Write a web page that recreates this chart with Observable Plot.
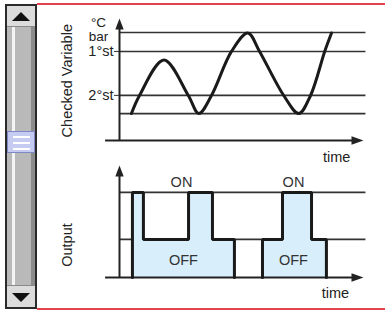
<!DOCTYPE html>
<html><head><meta charset="utf-8">
<script src="https://cdn.jsdelivr.net/npm/d3@7"></script>
<script src="https://cdn.jsdelivr.net/npm/@observablehq/plot@0.6"></script>
<style>
body{margin:0;background:#fff;}
#wrap{position:relative;width:385px;height:311px;overflow:hidden;font-family:"Liberation Sans",Arial,sans-serif;background:#fff;}
.abs{position:absolute;}
#sb{left:5px;top:4px;width:32px;height:305px;box-sizing:border-box;border-left:2px solid #2a2a2a;border-right:2px solid #2a2a2a;background:#b9b9b9;}
#hl{left:5px;top:0;width:3px;height:100%;background:#f4f4f4;}
#dk{left:24px;top:0;width:4px;height:100%;background:#8c8c8c;}
#bup{left:0;top:0;width:28px;height:23px;box-sizing:border-box;background:#dcdcdc;border-top:2px solid #2a2a2a;border-bottom:1px solid #8a8a8a;}
#bdn{left:0;top:281px;width:28px;height:24px;box-sizing:border-box;background:#dcdcdc;border-top:1px solid #8a8a8a;border-bottom:2px solid #2a2a2a;}
#tup{left:5px;top:6px;width:0;height:0;border-left:9px solid transparent;border-right:9px solid transparent;border-bottom:9px solid #111;}
#tdn{left:5px;top:7px;width:0;height:0;border-left:9px solid transparent;border-right:9px solid transparent;border-top:9px solid #111;}
#thumb{left:0;top:127px;width:28px;height:22px;box-sizing:border-box;background:#c6cbf2;border:1px solid #7f88c4;}
.gl{left:5px;width:17px;height:2px;background:#fff;}
.red{left:37px;width:348px;height:2px;background:#e2434d;}
#p1{left:0;top:0;}
#p2{left:0;top:162px;}
</style></head><body>
<div id="wrap">
  <div class="abs red" style="top:3px"></div>
  <div class="abs red" style="top:308px"></div>
  <div id="sb" class="abs">
    <div id="hl" class="abs"></div>
    <div id="dk" class="abs"></div>
    <div id="bup" class="abs"><div id="tup" class="abs"></div></div>
    <div id="thumb" class="abs">
      <div class="abs gl" style="top:4px"></div>
      <div class="abs gl" style="top:10px"></div>
      <div class="abs gl" style="top:16px"></div>
    </div>
    <div id="bdn" class="abs"><div id="tdn" class="abs"></div></div>
  </div>
  <div id="p1" class="abs"></div>
  <div id="p2" class="abs"></div>
</div>
<script>
// ---- data ----
const thresholdLevels = [22, 37, 73, 88.5];
const stageTicks = [73, 37];
const stageLabels = ["1°st", "2°st"];
const unitLabel = "°C\nbar";
const curveTime  = [4.9, 8.2, 18.2, 28.2, 32.5, 37.7, 45.9, 52.6, 57.4, 67.3, 73.5, 78.3, 84.1, 86.9];
const curveValue = [22.1, 36.9, 66.0, 36.9, 22.1, 36.9, 73.0, 88.1, 73.0, 36.9, 22.1, 36.9, 73.0, 88.1];
const outputLevels = [34, 76];
const block1Time  = [5.3, 5.3, 9.8, 28.3, 38.1, 47.1];
const block1Level = [0, 76, 34, 76, 34, 0];
const block2Time  = [58.6, 58.6, 66.8, 78.7, 84.8];
const block2Level = [0, 34, 76, 34, 0];
const onLabels  = [{t: 25.4, v: 85, s: "ON"}, {t: 71.3, v: 85, s: "ON"}];
const offLabels = [{t: 26.2, v: 15, s: "OFF"}, {t: 71.3, v: 15, s: "OFF"}];
const axisTitleTop = "Checked Variable";
const axisTitleBottom = "Output";
const timeLabel = "time";

const curve = curveTime.map((t, i) => ({t, v: curveValue[i]}));
const steps = [
  ...block1Time.map((t, i) => ({t, v: block1Level[i], b: 1})),
  ...block2Time.map((t, i) => ({t, v: block2Level[i], b: 2}))
];

const ink = "#222";
const font = "Liberation Sans, Arial, sans-serif";

const p1 = Plot.plot({
  width: 385, height: 162,
  marginLeft: 119, marginRight: 22, marginTop: 18, marginBottom: 22,
  x: {domain: [0, 100], axis: null},
  y: {domain: [0, 100]},
  style: {fontFamily: font, fontSize: "14.5px", color: ink, background: "transparent", overflow: "visible"},
  marks: [
    Plot.ruleY(thresholdLevels, {x1: 0, x2: 101, stroke: "#333", strokeWidth: 1.6}),
    Plot.axisY({ticks: stageTicks, tickFormat: d => stageLabels[stageTicks.indexOf(d)], tickSize: 5, tickPadding: 1, tickStrokeWidth: 1.6, stroke: "#333", fontSize: 14.5, label: null, fill: ink}),
    Plot.ruleX([0], {y1: 0, y2: 94, stroke: ink, strokeWidth: 2}),
    Plot.ruleY([0], {x1: -5.7, x2: 96, stroke: ink, strokeWidth: 2}),
    Plot.vector([0], {x: 0, y: 100, length: 11, r: 4.2, shape: "spike", anchor: "end", rotate: 0, fill: ink, stroke: "none"}),
    Plot.vector([0], {x: 100, y: 0, length: 12, r: 4.2, shape: "spike", anchor: "end", rotate: 90, fill: ink, stroke: "none"}),
    Plot.line(curve, {x: "t", y: "v", curve: "catmull-rom", stroke: "#1a1a1a", strokeWidth: 3}),
    Plot.text([unitLabel], {x: -8.6, y: 91, text: d => d, fontSize: 13.5, lineHeight: 1, fill: ink}),
    Plot.text([axisTitleTop], {x: -21.3, y: 49, text: d => d, rotate: -90, fontSize: 14.5, fill: ink}),
    Plot.text([timeLabel], {x: 89, y: -14, text: d => d, fontSize: 14.5, fill: ink})
  ]
});
document.getElementById("p1").appendChild(p1);

const p2 = Plot.plot({
  width: 385, height: 149,
  marginLeft: 119, marginRight: 22, marginTop: 3, marginBottom: 34,
  x: {domain: [0, 100], axis: null},
  y: {domain: [0, 100], axis: null},
  style: {fontFamily: font, fontSize: "14.5px", color: ink, background: "transparent", overflow: "visible"},
  marks: [
    Plot.ruleY(outputLevels, {x1: 0, x2: 101, stroke: "#333", strokeWidth: 1.6}),
    Plot.areaY(steps, {x: "t", y: "v", z: "b", curve: "step-after", fill: "#d8eefa"}),
    Plot.ruleX([0], {y1: 0, y2: 93, stroke: ink, strokeWidth: 2}),
    Plot.ruleY([0], {x1: -5.7, x2: 96, stroke: ink, strokeWidth: 2}),
    Plot.vector([0], {x: 0, y: 100, length: 11, r: 4.2, shape: "spike", anchor: "end", rotate: 0, fill: ink, stroke: "none"}),
    Plot.vector([0], {x: 100, y: 0, length: 12, r: 4.2, shape: "spike", anchor: "end", rotate: 90, fill: ink, stroke: "none"}),
    Plot.line(steps, {x: "t", y: "v", z: "b", curve: "step-after", stroke: "#1a1a1a", strokeWidth: 3, strokeLinejoin: "miter"}),
    Plot.text(onLabels, {x: "t", y: "v", text: "s", fontSize: 14.5, fill: "#333"}),
    Plot.text(offLabels, {x: "t", y: "v", text: "s", fontSize: 14.5, fill: "#333"}),
    Plot.text([axisTitleBottom], {x: -21.3, y: 29, text: d => d, rotate: -90, fontSize: 14.5, fill: ink}),
    Plot.text([timeLabel], {x: 88.5, y: -14.3, text: d => d, fontSize: 14.5, fill: ink})
  ]
});
document.getElementById("p2").appendChild(p2);
</script>
</body></html>
